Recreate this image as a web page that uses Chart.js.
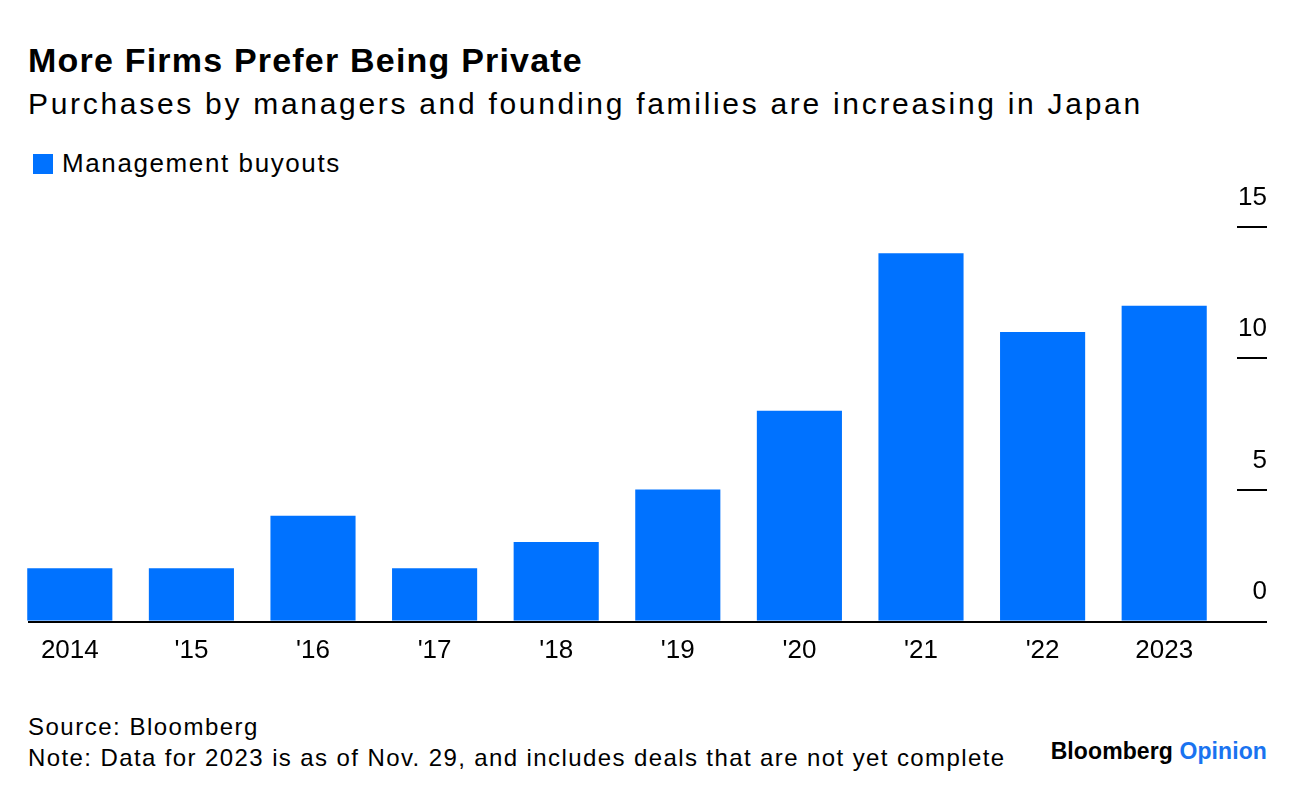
<!DOCTYPE html>
<html>
<head>
<meta charset="utf-8">
<script src="https://cdn.jsdelivr.net/npm/chart.js@4"></script>
<style>
  html, body { margin: 0; padding: 0; background: #fff; }
  body { width: 1296px; height: 798px; position: relative; overflow: hidden;
         font-family: "Liberation Sans", Arial, sans-serif; color: #000; }
  .t { position: absolute; left: 28px; white-space: nowrap; }
  #title { top: 41px; font-size: 34px; font-weight: bold; letter-spacing: 1.2px; }
  #sub { top: 87px; font-size: 30px; letter-spacing: 2.7px; }
  #legend { top: 148px; font-size: 26px; left: 33px; letter-spacing: 1.6px; }
  #legend i { display: inline-block; width: 20px; height: 20px; background: #0072ff;
              vertical-align: -2px; margin-right: 9px; }
  #src { top: 713px; font-size: 24px; letter-spacing: 1.5px; }
  #note { top: 744px; font-size: 24px; letter-spacing: 1.4px; }
  #logo { position: absolute; right: 29px; top: 738px; font-size: 23px; font-weight: bold;
          letter-spacing: 0.1px; }
  #logo span { color: #1a73f0; }
  #wrap { position: absolute; left: 0; top: 0; width: 1296px; height: 798px; }
</style>
</head>
<body>
<div class="t" id="title">More Firms Prefer Being Private</div>
<div class="t" id="sub">Purchases by managers and founding families are increasing in Japan</div>
<div class="t" id="legend"><i></i>Management buyouts</div>
<div class="t" id="src">Source: Bloomberg</div>
<div class="t" id="note">Note: Data for 2023 is as of Nov. 29, and includes deals that are not yet complete</div>
<div id="logo">Bloomberg <span>Opinion</span></div>
<div id="wrap"><canvas id="c" width="1296" height="798"></canvas></div>
<script>
// values
const years = ['2014', "'15", "'16", "'17", "'18", "'19", "'20", "'21", "'22", '2023'];
const buyouts = [2, 2, 4, 2, 3, 5, 8, 14, 11, 12];
const yTicks = [0, 5, 10, 15];

// right-hand axis: short tick strokes with the numbers sitting above them
const rightAxis = {
    id: 'rightAxis',
    afterDatasetsDraw(chart) {
        const ctx = chart.ctx;
        const y = chart.scales.y;
        ctx.save();
        ctx.strokeStyle = '#000';
        ctx.fillStyle = '#000';
        ctx.font = '26px "Liberation Sans", Arial, sans-serif';
        ctx.textAlign = 'right';
        ctx.textBaseline = 'middle';
        yTicks.forEach(function (v) {
            const py = Math.round(y.getPixelForValue(v));
            ctx.lineWidth = 2;
            ctx.beginPath();
            if (v === 0) { ctx.moveTo(28, py + 1); ctx.lineTo(1267, py + 1); }
            else { ctx.moveTo(1237, py); ctx.lineTo(1267, py); }
            ctx.stroke();
            ctx.fillText(String(v), 1267, py - 29);
        });
        ctx.restore();
    }
};

new Chart(document.getElementById('c'), {
    type: 'bar',
    data: {
        labels: years,
        datasets: [{ label: 'Management buyouts', data: buyouts, backgroundColor: '#0072ff',
                     barPercentage: 0.7, categoryPercentage: 1.0 }]
    },
    options: {
        responsive: false,
        animation: false,
        layout: { padding: { left: 9, right: 71, top: 227, bottom: 118 } },
        plugins: { legend: { display: false }, tooltip: { enabled: false } },
        scales: {
            x: {
                grid: { display: false, drawTicks: false },
                border: { display: false },
                ticks: { color: '#000', padding: 14, maxRotation: 0,
                         font: { size: 26, family: '"Liberation Sans", Arial, sans-serif' } }
            },
            y: { display: false, min: 0, max: 15 }
        }
    },
    plugins: [rightAxis]
});
</script>
</body>
</html>
